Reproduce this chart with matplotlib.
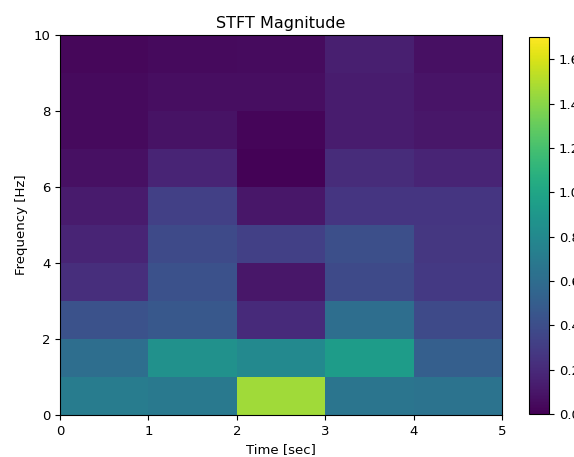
import numpy as np
import matplotlib
matplotlib.use("Agg")
import matplotlib.pyplot as plt

# time / frequency bin edges
t_edges = [0, 1, 2, 3, 4, 5]
f_edges = [0, 1, 2, 3, 4, 5, 6, 7, 8, 9, 10]

# STFT magnitude, rows = frequency bins (0 Hz upward), cols = time bins
magnitude = [
    [0.71, 0.69, 1.46, 0.66, 0.65],
    [0.61, 0.85, 0.80, 0.93, 0.51],
    [0.43, 0.46, 0.20, 0.61, 0.38],
    [0.22, 0.42, 0.10, 0.38, 0.28],
    [0.17, 0.38, 0.32, 0.41, 0.27],
    [0.12, 0.32, 0.10, 0.26, 0.26],
    [0.07, 0.17, 0.01, 0.21, 0.17],
    [0.04, 0.08, 0.02, 0.13, 0.10],
    [0.04, 0.06, 0.06, 0.13, 0.09],
    [0.03, 0.04, 0.05, 0.14, 0.07],
]

VMAX = 1.70

fig = plt.figure(figsize=(5.74, 4.57), dpi=100)
ax = fig.add_axes([60 / 574, 1 - 415 / 457, 442 / 574, 380 / 457])
cax = fig.add_axes([529 / 574, 1 - 414 / 457, 20 / 574, 377 / 457])

mesh = ax.pcolormesh(t_edges, f_edges, np.array(magnitude), cmap="viridis",
                     vmin=0, vmax=VMAX, shading="flat")
ax.set_title("STFT Magnitude", fontsize=11.5, pad=5)
ax.set_ylabel("Frequency [Hz]", fontsize=9.5)
ax.set_xlabel("Time [sec]", fontsize=9.5)
ax.tick_params(labelsize=9.5)
ax.set_yticks([0, 2, 4, 6, 8, 10])

cb = fig.colorbar(mesh, cax=cax)
cb.set_ticks([0.0, 0.2, 0.4, 0.6, 0.8, 1.0, 1.2, 1.4, 1.6])
cb.ax.tick_params(labelsize=9.5)

fig.savefig("out.png", dpi=100)
